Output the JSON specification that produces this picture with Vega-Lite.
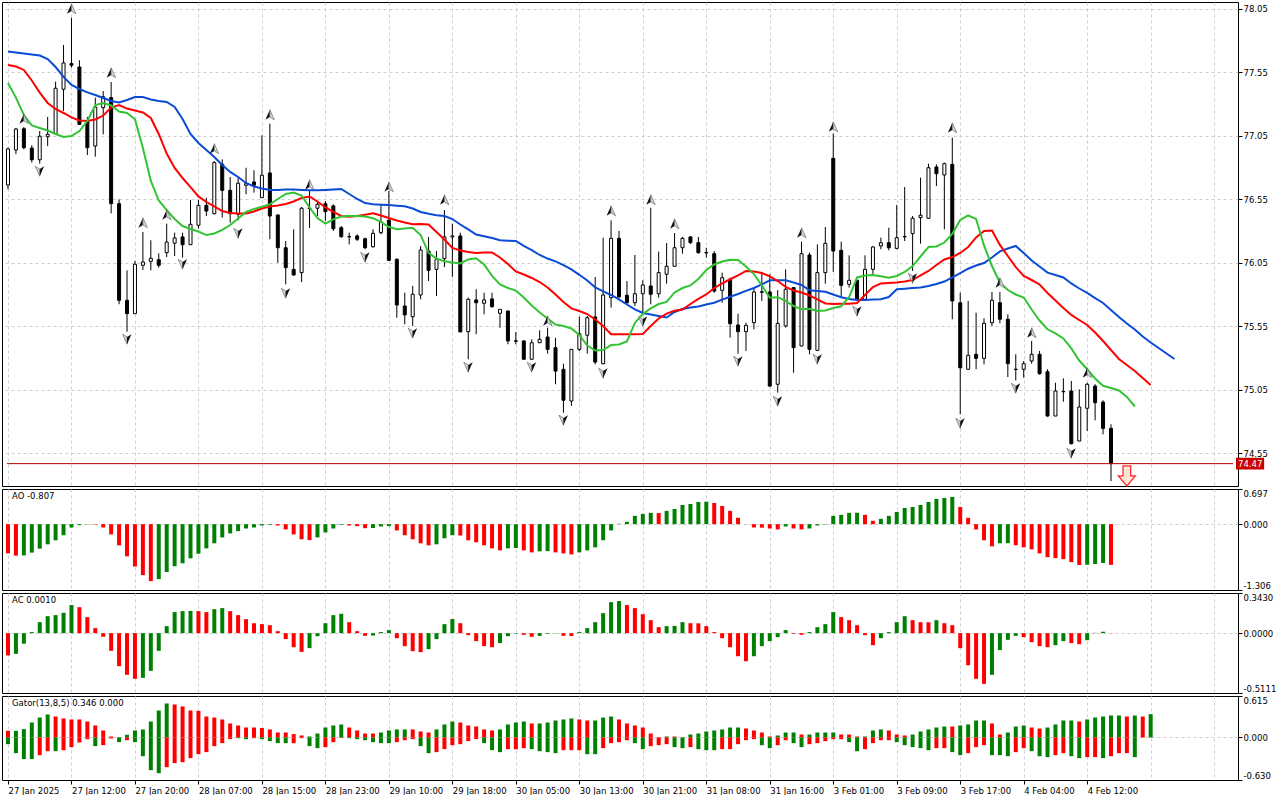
{
  "$schema": "https://vega.github.io/schema/vega-lite/v6.json",
  "description": "MT4 style hourly chart with Alligator, fractals, AO, AC and Gator panels.",
  "padding": {"left": 1, "top": 1, "right": 0, "bottom": 0},
  "background": "#ffffff",
  "bounds": "flush",
  "spacing": 3,
  "config": {
    "view": {"stroke": "#000000", "strokeWidth": 1},
    "font": "DejaVu Sans",
    "axis": {
      "labelFont": "DejaVu Sans",
      "labelFontSize": 8.5,
      "labelColor": "#000000",
      "tickColor": "#000000",
      "gridColor": "#cfcfcf",
      "gridDash": [3, 3],
      "domain": false,
      "labelOverlap": false,
      "labelBound": false
    }
  },
  "datasets": {
    "cd": [
      {"i":0,"o":76.664,"h":76.96,"l":76.63,"c":76.948},
      {"i":1,"o":76.94,"h":77.113,"l":76.906,"c":77.105},
      {"i":2,"o":77.107,"h":77.121,"l":76.945,"c":76.958},
      {"i":3,"o":76.955,"h":76.977,"l":76.84,"c":76.863},
      {"i":4,"o":76.863,"h":77.089,"l":76.832,"c":77.048},
      {"i":5,"o":77.044,"h":77.2,"l":76.971,"c":77.063},
      {"i":6,"o":77.068,"h":77.478,"l":77.063,"c":77.426},
      {"i":7,"o":77.418,"h":77.767,"l":77.247,"c":77.625},
      {"i":8,"o":77.62,"h":77.981,"l":77.588,"c":77.607},
      {"i":9,"o":77.593,"h":77.646,"l":77.137,"c":77.142},
      {"i":10,"o":77.163,"h":77.2,"l":76.9,"c":76.958},
      {"i":11,"o":76.971,"h":77.352,"l":76.887,"c":77.278},
      {"i":12,"o":77.273,"h":77.404,"l":77.063,"c":77.359},
      {"i":13,"o":77.352,"h":77.475,"l":76.441,"c":76.517},
      {"i":14,"o":76.517,"h":76.551,"l":75.725,"c":75.756},
      {"i":15,"o":75.756,"h":75.992,"l":75.509,"c":75.651},
      {"i":16,"o":75.651,"h":76.066,"l":75.651,"c":76.04},
      {"i":17,"o":76.032,"h":76.294,"l":75.995,"c":76.058},
      {"i":18,"o":76.063,"h":76.229,"l":75.992,"c":76.087},
      {"i":19,"o":76.076,"h":76.126,"l":76.013,"c":76.032},
      {"i":20,"o":76.131,"h":76.359,"l":76.097,"c":76.215},
      {"i":21,"o":76.206,"h":76.289,"l":76.105,"c":76.247},
      {"i":22,"o":76.255,"h":76.289,"l":76.092,"c":76.194},
      {"i":23,"o":76.194,"h":76.546,"l":76.194,"c":76.355},
      {"i":24,"o":76.347,"h":76.546,"l":76.32,"c":76.504},
      {"i":25,"o":76.504,"h":76.564,"l":76.419,"c":76.459},
      {"i":26,"o":76.438,"h":76.853,"l":76.433,"c":76.84},
      {"i":27,"o":76.827,"h":76.866,"l":76.407,"c":76.622},
      {"i":28,"o":76.622,"h":76.727,"l":76.367,"c":76.438},
      {"i":29,"o":76.433,"h":76.722,"l":76.386,"c":76.678},
      {"i":30,"o":76.662,"h":76.8,"l":76.591,"c":76.675},
      {"i":31,"o":76.688,"h":76.78,"l":76.604,"c":76.662},
      {"i":32,"o":76.564,"h":77.055,"l":76.564,"c":76.741},
      {"i":33,"o":76.759,"h":77.147,"l":76.237,"c":76.42},
      {"i":34,"o":76.428,"h":76.433,"l":76.052,"c":76.17},
      {"i":35,"o":76.17,"h":76.223,"l":75.882,"c":76.013},
      {"i":36,"o":76.0,"h":76.315,"l":75.948,"c":75.956},
      {"i":37,"o":75.974,"h":76.491,"l":75.9,"c":76.481},
      {"i":38,"o":76.483,"h":76.617,"l":76.326,"c":76.479},
      {"i":39,"o":76.481,"h":76.538,"l":76.42,"c":76.512},
      {"i":40,"o":76.517,"h":76.538,"l":76.381,"c":76.454},
      {"i":41,"o":76.499,"h":76.512,"l":76.302,"c":76.32},
      {"i":42,"o":76.328,"h":76.341,"l":76.249,"c":76.257},
      {"i":43,"o":76.258,"h":76.289,"l":76.197,"c":76.256},
      {"i":44,"o":76.263,"h":76.276,"l":76.223,"c":76.237},
      {"i":45,"o":76.241,"h":76.249,"l":76.158,"c":76.17},
      {"i":46,"o":76.178,"h":76.315,"l":76.17,"c":76.284},
      {"i":47,"o":76.289,"h":76.512,"l":76.276,"c":76.373},
      {"i":48,"o":76.386,"h":76.617,"l":76.066,"c":76.071},
      {"i":49,"o":76.079,"h":76.087,"l":75.619,"c":75.719},
      {"i":50,"o":75.711,"h":75.816,"l":75.567,"c":75.641},
      {"i":51,"o":75.627,"h":75.869,"l":75.554,"c":75.804},
      {"i":52,"o":75.798,"h":76.184,"l":75.764,"c":76.152},
      {"i":53,"o":76.144,"h":76.255,"l":75.908,"c":75.992},
      {"i":54,"o":76.0,"h":76.144,"l":75.79,"c":76.079},
      {"i":55,"o":76.084,"h":76.467,"l":76.018,"c":76.255},
      {"i":56,"o":76.255,"h":76.359,"l":75.94,"c":76.263},
      {"i":57,"o":76.263,"h":76.289,"l":75.507,"c":75.507},
      {"i":58,"o":75.509,"h":75.777,"l":75.292,"c":75.764},
      {"i":59,"o":75.759,"h":75.843,"l":75.489,"c":75.737},
      {"i":60,"o":75.733,"h":75.816,"l":75.646,"c":75.759},
      {"i":61,"o":75.767,"h":75.816,"l":75.698,"c":75.706},
      {"i":62,"o":75.654,"h":75.685,"l":75.54,"c":75.685},
      {"i":63,"o":75.672,"h":75.672,"l":75.41,"c":75.436},
      {"i":64,"o":75.437,"h":75.507,"l":75.41,"c":75.434},
      {"i":65,"o":75.436,"h":75.442,"l":75.292,"c":75.292},
      {"i":66,"o":75.292,"h":75.449,"l":75.29,"c":75.422},
      {"i":67,"o":75.422,"h":75.52,"l":75.422,"c":75.449},
      {"i":68,"o":75.467,"h":75.54,"l":75.336,"c":75.37},
      {"i":69,"o":75.383,"h":75.461,"l":75.095,"c":75.199},
      {"i":70,"o":75.213,"h":75.257,"l":74.871,"c":74.969},
      {"i":71,"o":74.963,"h":75.37,"l":74.924,"c":75.37},
      {"i":72,"o":75.37,"h":75.627,"l":75.357,"c":75.493},
      {"i":73,"o":75.481,"h":75.633,"l":75.336,"c":75.619},
      {"i":74,"o":75.625,"h":75.94,"l":75.252,"c":75.27},
      {"i":75,"o":75.257,"h":76.249,"l":75.252,"c":75.798},
      {"i":76,"o":75.777,"h":76.386,"l":75.698,"c":76.244},
      {"i":77,"o":76.244,"h":76.302,"l":75.777,"c":75.782},
      {"i":78,"o":75.796,"h":75.908,"l":75.73,"c":75.737},
      {"i":79,"o":75.737,"h":76.113,"l":75.711,"c":75.808},
      {"i":80,"o":75.808,"h":75.914,"l":75.659,"c":75.877},
      {"i":81,"o":75.869,"h":76.485,"l":75.725,"c":75.804},
      {"i":82,"o":75.808,"h":76.139,"l":75.777,"c":75.974},
      {"i":83,"o":75.961,"h":76.207,"l":75.887,"c":76.024},
      {"i":84,"o":76.024,"h":76.286,"l":76.024,"c":76.17},
      {"i":85,"o":76.17,"h":76.255,"l":76.123,"c":76.244},
      {"i":86,"o":76.255,"h":76.263,"l":76.2,"c":76.21},
      {"i":87,"o":76.21,"h":76.255,"l":76.123,"c":76.131},
      {"i":88,"o":76.133,"h":76.17,"l":76.092,"c":76.129},
      {"i":89,"o":76.123,"h":76.144,"l":75.816,"c":75.829},
      {"i":90,"o":75.835,"h":75.974,"l":75.737,"c":75.934},
      {"i":91,"o":75.922,"h":75.934,"l":75.462,"c":75.572},
      {"i":92,"o":75.562,"h":75.651,"l":75.336,"c":75.509},
      {"i":93,"o":75.509,"h":75.58,"l":75.357,"c":75.559},
      {"i":94,"o":75.58,"h":75.856,"l":75.528,"c":75.822},
      {"i":95,"o":75.823,"h":75.974,"l":75.751,"c":75.82},
      {"i":96,"o":75.822,"h":75.961,"l":75.074,"c":75.081},
      {"i":97,"o":75.095,"h":75.837,"l":75.029,"c":75.575},
      {"i":98,"o":75.554,"h":76.0,"l":75.541,"c":75.843},
      {"i":99,"o":75.856,"h":75.856,"l":75.186,"c":75.383},
      {"i":100,"o":75.396,"h":76.218,"l":75.396,"c":76.123},
      {"i":101,"o":76.113,"h":76.131,"l":75.331,"c":75.37},
      {"i":102,"o":75.362,"h":76.197,"l":75.357,"c":75.974},
      {"i":103,"o":75.974,"h":76.333,"l":75.887,"c":76.205},
      {"i":104,"o":76.874,"h":77.07,"l":75.98,"c":76.144},
      {"i":105,"o":76.15,"h":76.218,"l":75.777,"c":75.874},
      {"i":106,"o":75.882,"h":76.11,"l":75.856,"c":75.914},
      {"i":107,"o":75.914,"h":75.914,"l":75.757,"c":75.764},
      {"i":108,"o":75.764,"h":76.11,"l":75.764,"c":76.0},
      {"i":109,"o":76.0,"h":76.184,"l":75.961,"c":76.176},
      {"i":110,"o":76.184,"h":76.249,"l":76.158,"c":76.21},
      {"i":111,"o":76.21,"h":76.328,"l":76.15,"c":76.17},
      {"i":112,"o":76.165,"h":76.507,"l":76.158,"c":76.249},
      {"i":113,"o":76.258,"h":76.648,"l":76.223,"c":76.256},
      {"i":114,"o":76.281,"h":76.42,"l":75.987,"c":76.402},
      {"i":115,"o":76.407,"h":76.722,"l":76.202,"c":76.426},
      {"i":116,"o":76.402,"h":76.832,"l":76.402,"c":76.8},
      {"i":117,"o":76.806,"h":76.827,"l":76.656,"c":76.753},
      {"i":118,"o":76.743,"h":76.84,"l":76.315,"c":76.832},
      {"i":119,"o":76.827,"h":77.037,"l":75.607,"c":75.751},
      {"i":120,"o":75.737,"h":75.816,"l":74.858,"c":75.225},
      {"i":121,"o":75.213,"h":75.751,"l":75.213,"c":75.323},
      {"i":122,"o":75.331,"h":75.659,"l":75.213,"c":75.299},
      {"i":123,"o":75.299,"h":75.615,"l":75.252,"c":75.575},
      {"i":124,"o":75.58,"h":75.822,"l":75.554,"c":75.756},
      {"i":125,"o":75.737,"h":75.822,"l":75.575,"c":75.607},
      {"i":126,"o":75.607,"h":75.646,"l":75.152,"c":75.257},
      {"i":127,"o":75.214,"h":75.331,"l":75.126,"c":75.211},
      {"i":128,"o":75.213,"h":75.278,"l":75.147,"c":75.257},
      {"i":129,"o":75.278,"h":75.436,"l":75.257,"c":75.331},
      {"i":130,"o":75.331,"h":75.357,"l":75.171,"c":75.178},
      {"i":131,"o":75.194,"h":75.213,"l":74.84,"c":74.845},
      {"i":132,"o":74.845,"h":75.107,"l":74.845,"c":75.042},
      {"i":133,"o":75.038,"h":75.142,"l":74.958,"c":75.036},
      {"i":134,"o":75.042,"h":75.121,"l":74.622,"c":74.627},
      {"i":135,"o":74.648,"h":75.055,"l":74.648,"c":74.916},
      {"i":136,"o":74.906,"h":75.107,"l":74.727,"c":75.095},
      {"i":137,"o":75.081,"h":75.095,"l":74.811,"c":74.95},
      {"i":138,"o":74.955,"h":74.969,"l":74.701,"c":74.748},
      {"i":139,"o":74.748,"h":74.78,"l":74.333,"c":74.47}
    ],
    "al": [
      {"i":0,"j":77.715,"t":77.609,"lp":77.467},
      {"i":1,"j":77.708,"t":77.597,"lp":77.352},
      {"i":2,"j":77.7,"t":77.57,"lp":77.215},
      {"i":3,"j":77.692,"t":77.487,"lp":77.133},
      {"i":4,"j":77.684,"t":77.392,"lp":77.113},
      {"i":5,"j":77.656,"t":77.31,"lp":77.093},
      {"i":6,"j":77.593,"t":77.263,"lp":77.066},
      {"i":7,"j":77.515,"t":77.231,"lp":77.042},
      {"i":8,"j":77.452,"t":77.196,"lp":77.05},
      {"i":9,"j":77.42,"t":77.172,"lp":77.089},
      {"i":10,"j":77.393,"t":77.168,"lp":77.168},
      {"i":11,"j":77.373,"t":77.18,"lp":77.294},
      {"i":12,"j":77.349,"t":77.211,"lp":77.31},
      {"i":13,"j":77.326,"t":77.274,"lp":77.29},
      {"i":14,"j":77.314,"t":77.294,"lp":77.243},
      {"i":15,"j":77.333,"t":77.266,"lp":77.231},
      {"i":16,"j":77.357,"t":77.251,"lp":77.182},
      {"i":17,"j":77.357,"t":77.235,"lp":76.956},
      {"i":18,"j":77.337,"t":77.192,"lp":76.696},
      {"i":19,"j":77.326,"t":77.066,"lp":76.542},
      {"i":20,"j":77.318,"t":76.912,"lp":76.467},
      {"i":21,"j":77.278,"t":76.798,"lp":76.396},
      {"i":22,"j":77.184,"t":76.719,"lp":76.341},
      {"i":23,"j":77.066,"t":76.648,"lp":76.318},
      {"i":24,"j":76.995,"t":76.574,"lp":76.298},
      {"i":25,"j":76.94,"t":76.53,"lp":76.27},
      {"i":26,"j":76.885,"t":76.495,"lp":76.282},
      {"i":27,"j":76.822,"t":76.459,"lp":76.31},
      {"i":28,"j":76.767,"t":76.444,"lp":76.349},
      {"i":29,"j":76.727,"t":76.44,"lp":76.4},
      {"i":30,"j":76.68,"t":76.44,"lp":76.452},
      {"i":31,"j":76.652,"t":76.456,"lp":76.475},
      {"i":32,"j":76.637,"t":76.479,"lp":76.493},
      {"i":33,"j":76.625,"t":76.495,"lp":76.511},
      {"i":34,"j":76.625,"t":76.503,"lp":76.554},
      {"i":35,"j":76.629,"t":76.515,"lp":76.593},
      {"i":36,"j":76.629,"t":76.534,"lp":76.605},
      {"i":37,"j":76.625,"t":76.562,"lp":76.581},
      {"i":38,"j":76.622,"t":76.574,"lp":76.487},
      {"i":39,"j":76.622,"t":76.534,"lp":76.404},
      {"i":40,"j":76.625,"t":76.487,"lp":76.36},
      {"i":41,"j":76.629,"t":76.452,"lp":76.394},
      {"i":42,"j":76.633,"t":76.42,"lp":76.416},
      {"i":43,"j":76.593,"t":76.415,"lp":76.42},
      {"i":44,"j":76.554,"t":76.42,"lp":76.42},
      {"i":45,"j":76.522,"t":76.43,"lp":76.416},
      {"i":46,"j":76.512,"t":76.441,"lp":76.403},
      {"i":47,"j":76.509,"t":76.424,"lp":76.373},
      {"i":48,"j":76.507,"t":76.404,"lp":76.333},
      {"i":49,"j":76.501,"t":76.385,"lp":76.315},
      {"i":50,"j":76.496,"t":76.369,"lp":76.322},
      {"i":51,"j":76.479,"t":76.355,"lp":76.328},
      {"i":52,"j":76.452,"t":76.357,"lp":76.27},
      {"i":53,"j":76.437,"t":76.353,"lp":76.129},
      {"i":54,"j":76.426,"t":76.294,"lp":76.085},
      {"i":55,"j":76.42,"t":76.235,"lp":76.063},
      {"i":56,"j":76.396,"t":76.168,"lp":76.054},
      {"i":57,"j":76.353,"t":76.148,"lp":76.046},
      {"i":58,"j":76.314,"t":76.137,"lp":76.078},
      {"i":59,"j":76.274,"t":76.129,"lp":76.087},
      {"i":60,"j":76.26,"t":76.133,"lp":76.038},
      {"i":61,"j":76.247,"t":76.133,"lp":75.948},
      {"i":62,"j":76.229,"t":76.093,"lp":75.881},
      {"i":63,"j":76.226,"t":76.042,"lp":75.853},
      {"i":64,"j":76.223,"t":75.983,"lp":75.833},
      {"i":65,"j":76.184,"t":75.959,"lp":75.778},
      {"i":66,"j":76.152,"t":75.932,"lp":75.715},
      {"i":67,"j":76.113,"t":75.9,"lp":75.66},
      {"i":68,"j":76.085,"t":75.857,"lp":75.613},
      {"i":69,"j":76.063,"t":75.802,"lp":75.566},
      {"i":70,"j":76.034,"t":75.743,"lp":75.554},
      {"i":71,"j":75.999,"t":75.693,"lp":75.534},
      {"i":72,"j":75.957,"t":75.672,"lp":75.483},
      {"i":73,"j":75.912,"t":75.648,"lp":75.4},
      {"i":74,"j":75.857,"t":75.605,"lp":75.361},
      {"i":75,"j":75.826,"t":75.554,"lp":75.365},
      {"i":76,"j":75.798,"t":75.489,"lp":75.404},
      {"i":77,"j":75.763,"t":75.489,"lp":75.408},
      {"i":78,"j":75.723,"t":75.489,"lp":75.432},
      {"i":79,"j":75.684,"t":75.489,"lp":75.578},
      {"i":80,"j":75.656,"t":75.491,"lp":75.648},
      {"i":81,"j":75.645,"t":75.554,"lp":75.692},
      {"i":82,"j":75.633,"t":75.613,"lp":75.727},
      {"i":83,"j":75.621,"t":75.652,"lp":75.743},
      {"i":84,"j":75.664,"t":75.674,"lp":75.818},
      {"i":85,"j":75.688,"t":75.684,"lp":75.853},
      {"i":86,"j":75.7,"t":75.727,"lp":75.873},
      {"i":87,"j":75.707,"t":75.767,"lp":75.924},
      {"i":88,"j":75.723,"t":75.802,"lp":75.995},
      {"i":89,"j":75.737,"t":75.853,"lp":76.038},
      {"i":90,"j":75.761,"t":75.889,"lp":76.062},
      {"i":91,"j":75.784,"t":75.922,"lp":76.076},
      {"i":92,"j":75.806,"t":75.953,"lp":76.074},
      {"i":93,"j":75.83,"t":75.987,"lp":76.022},
      {"i":94,"j":75.853,"t":75.983,"lp":75.963},
      {"i":95,"j":75.881,"t":75.971,"lp":75.873},
      {"i":96,"j":75.914,"t":75.944,"lp":75.777},
      {"i":97,"j":75.914,"t":75.908,"lp":75.781},
      {"i":98,"j":75.914,"t":75.861,"lp":75.752},
      {"i":99,"j":75.896,"t":75.833,"lp":75.711},
      {"i":100,"j":75.877,"t":75.818,"lp":75.685},
      {"i":101,"j":75.835,"t":75.794,"lp":75.689},
      {"i":102,"j":75.83,"t":75.764,"lp":75.672},
      {"i":103,"j":75.824,"t":75.731,"lp":75.676},
      {"i":104,"j":75.802,"t":75.727,"lp":75.696},
      {"i":105,"j":75.78,"t":75.729,"lp":75.709},
      {"i":106,"j":75.767,"t":75.729,"lp":75.782},
      {"i":107,"j":75.759,"t":75.735,"lp":75.936},
      {"i":108,"j":75.759,"t":75.798,"lp":75.952},
      {"i":109,"j":75.763,"t":75.861,"lp":75.955},
      {"i":110,"j":75.764,"t":75.889,"lp":75.945},
      {"i":111,"j":75.782,"t":75.893,"lp":75.934},
      {"i":112,"j":75.843,"t":75.896,"lp":75.948},
      {"i":113,"j":75.848,"t":75.904,"lp":75.979},
      {"i":114,"j":75.853,"t":75.916,"lp":76.026},
      {"i":115,"j":75.857,"t":75.952,"lp":76.101},
      {"i":116,"j":75.869,"t":75.987,"lp":76.176},
      {"i":117,"j":75.885,"t":76.034,"lp":76.18},
      {"i":118,"j":75.904,"t":76.078,"lp":76.211},
      {"i":119,"j":75.936,"t":76.097,"lp":76.278},
      {"i":120,"j":75.971,"t":76.129,"lp":76.389},
      {"i":121,"j":76.005,"t":76.176,"lp":76.424},
      {"i":122,"j":76.03,"t":76.251,"lp":76.397},
      {"i":123,"j":76.05,"t":76.302,"lp":76.188},
      {"i":124,"j":76.093,"t":76.306,"lp":76.026},
      {"i":125,"j":76.141,"t":76.192,"lp":75.896},
      {"i":126,"j":76.164,"t":76.105,"lp":75.837},
      {"i":127,"j":76.184,"t":76.018,"lp":75.802},
      {"i":128,"j":76.129,"t":75.948,"lp":75.778},
      {"i":129,"j":76.07,"t":75.916,"lp":75.684},
      {"i":130,"j":76.022,"t":75.881,"lp":75.597},
      {"i":131,"j":75.974,"t":75.814,"lp":75.528},
      {"i":132,"j":75.956,"t":75.755,"lp":75.495},
      {"i":133,"j":75.936,"t":75.696,"lp":75.456},
      {"i":134,"j":75.889,"t":75.641,"lp":75.377},
      {"i":135,"j":75.849,"t":75.601,"lp":75.282},
      {"i":136,"j":75.814,"t":75.562,"lp":75.213},
      {"i":137,"j":75.774,"t":75.503,"lp":75.141},
      {"i":138,"j":75.735,"t":75.436,"lp":75.083},
      {"i":139,"j":75.68,"t":75.365,"lp":75.066},
      {"i":140,"j":75.625,"t":75.294,"lp":75.046},
      {"i":141,"j":75.574,"t":75.247,"lp":74.995},
      {"i":142,"j":75.526,"t":75.2,"lp":74.92},
      {"i":143,"j":75.471,"t":75.145},
      {"i":144,"j":75.424,"t":75.089},
      {"i":145,"j":75.381},
      {"i":146,"j":75.337},
      {"i":147,"j":75.294}
    ],
    "fr": [
      {"i":2,"p":77.184,"d":"u"},{"i":8,"p":78.05,"d":"u"},{"i":13,"p":77.546,"d":"u"},{"i":17,"p":76.365,"d":"u"},
      {"i":20,"p":76.428,"d":"u"},{"i":26,"p":76.948,"d":"u"},{"i":33,"p":77.215,"d":"u"},{"i":38,"p":76.664,"d":"u"},
      {"i":48,"p":76.648,"d":"u"},{"i":55,"p":76.546,"d":"u"},{"i":68,"p":75.593,"d":"u"},{"i":76,"p":76.459,"d":"u"},
      {"i":81,"p":76.546,"d":"u"},{"i":84,"p":76.357,"d":"u"},{"i":100,"p":76.286,"d":"u"},{"i":104,"p":77.121,"d":"u"},
      {"i":119,"p":77.113,"d":"u"},{"i":125,"p":75.893,"d":"u"},{"i":129,"p":75.499,"d":"u"},{"i":136,"p":75.184,"d":"u"},
      {"i":4,"p":76.774,"d":"d"},{"i":15,"p":75.452,"d":"d"},{"i":22,"p":76.042,"d":"d"},{"i":29,"p":76.286,"d":"d"},
      {"i":35,"p":75.814,"d":"d"},{"i":45,"p":76.097,"d":"d"},{"i":51,"p":75.499,"d":"d"},{"i":58,"p":75.231,"d":"d"},
      {"i":66,"p":75.231,"d":"d"},{"i":70,"p":74.814,"d":"d"},{"i":75,"p":75.184,"d":"d"},{"i":80,"p":75.593,"d":"d"},
      {"i":92,"p":75.278,"d":"d"},{"i":97,"p":74.963,"d":"d"},{"i":102,"p":75.294,"d":"d"},{"i":107,"p":75.672,"d":"d"},
      {"i":114,"p":75.932,"d":"d"},{"i":120,"p":74.79,"d":"d"},{"i":127,"p":75.066,"d":"d"},{"i":134,"p":74.554,"d":"d"}
    ],
    "os": [
      {"i":0,"ao":-0.58,"aoc":"r","ac":-0.19,"acc":"r"},
      {"i":1,"ao":-0.625,"aoc":"r","ac":-0.177,"acc":"g"},
      {"i":2,"ao":-0.62,"aoc":"g","ac":-0.09,"acc":"g"},
      {"i":3,"ao":-0.565,"aoc":"g","ac":0.009,"acc":"g"},
      {"i":4,"ao":-0.487,"aoc":"g","ac":0.094,"acc":"g"},
      {"i":5,"ao":-0.4,"aoc":"g","ac":0.145,"acc":"g"},
      {"i":6,"ao":-0.32,"aoc":"g","ac":0.154,"acc":"g"},
      {"i":7,"ao":-0.22,"aoc":"g","ac":0.174,"acc":"g"},
      {"i":8,"ao":-0.066,"aoc":"g","ac":0.24,"acc":"g"},
      {"i":9,"ao":-0.02,"aoc":"g","ac":0.222,"acc":"r"},
      {"i":10,"ao":-0.005,"aoc":"g","ac":0.137,"acc":"r"},
      {"i":11,"ao":-0.008,"aoc":"r","ac":0.043,"acc":"r"},
      {"i":12,"ao":-0.066,"aoc":"r","ac":-0.031,"acc":"r"},
      {"i":13,"ao":-0.204,"aoc":"r","ac":-0.151,"acc":"r"},
      {"i":14,"ao":-0.42,"aoc":"r","ac":-0.282,"acc":"r"},
      {"i":15,"ao":-0.638,"aoc":"r","ac":-0.356,"acc":"r"},
      {"i":16,"ao":-0.84,"aoc":"r","ac":-0.39,"acc":"r"},
      {"i":17,"ao":-1.01,"aoc":"r","ac":-0.382,"acc":"g"},
      {"i":18,"ao":-1.13,"aoc":"r","ac":-0.322,"acc":"g"},
      {"i":19,"ao":-1.09,"aoc":"g","ac":-0.151,"acc":"g"},
      {"i":20,"ao":-0.95,"aoc":"g","ac":0.06,"acc":"g"},
      {"i":21,"ao":-0.835,"aoc":"g","ac":0.18,"acc":"g"},
      {"i":22,"ao":-0.776,"aoc":"g","ac":0.188,"acc":"g"},
      {"i":23,"ao":-0.678,"aoc":"g","ac":0.19,"acc":"g"},
      {"i":24,"ao":-0.586,"aoc":"g","ac":0.188,"acc":"r"},
      {"i":25,"ao":-0.48,"aoc":"g","ac":0.18,"acc":"r"},
      {"i":26,"ao":-0.38,"aoc":"g","ac":0.205,"acc":"g"},
      {"i":27,"ao":-0.263,"aoc":"g","ac":0.214,"acc":"g"},
      {"i":28,"ao":-0.184,"aoc":"g","ac":0.188,"acc":"r"},
      {"i":29,"ao":-0.138,"aoc":"g","ac":0.154,"acc":"r"},
      {"i":30,"ao":-0.086,"aoc":"g","ac":0.12,"acc":"r"},
      {"i":31,"ao":-0.066,"aoc":"g","ac":0.085,"acc":"r"},
      {"i":32,"ao":-0.026,"aoc":"g","ac":0.077,"acc":"r"},
      {"i":33,"ao":-0.013,"aoc":"g","ac":0.068,"acc":"r"},
      {"i":34,"ao":-0.026,"aoc":"r","ac":0.017,"acc":"r"},
      {"i":35,"ao":-0.105,"aoc":"r","ac":-0.051,"acc":"r"},
      {"i":36,"ao":-0.204,"aoc":"r","ac":-0.12,"acc":"r"},
      {"i":37,"ao":-0.3,"aoc":"r","ac":-0.16,"acc":"r"},
      {"i":38,"ao":-0.316,"aoc":"r","ac":-0.128,"acc":"g"},
      {"i":39,"ao":-0.263,"aoc":"g","ac":-0.026,"acc":"g"},
      {"i":40,"ao":-0.164,"aoc":"g","ac":0.085,"acc":"g"},
      {"i":41,"ao":-0.086,"aoc":"g","ac":0.154,"acc":"g"},
      {"i":42,"ao":-0.013,"aoc":"g","ac":0.165,"acc":"g"},
      {"i":43,"ao":-0.026,"aoc":"r","ac":0.094,"acc":"r"},
      {"i":44,"ao":-0.04,"aoc":"r","ac":0.017,"acc":"r"},
      {"i":45,"ao":-0.08,"aoc":"r","ac":-0.023,"acc":"r"},
      {"i":46,"ao":-0.076,"aoc":"g","ac":-0.02,"acc":"g"},
      {"i":47,"ao":-0.046,"aoc":"g","ac":0.009,"acc":"g"},
      {"i":48,"ao":-0.04,"aoc":"g","ac":0.026,"acc":"g"},
      {"i":49,"ao":-0.125,"aoc":"r","ac":-0.043,"acc":"r"},
      {"i":50,"ao":-0.22,"aoc":"r","ac":-0.111,"acc":"r"},
      {"i":51,"ao":-0.3,"aoc":"r","ac":-0.154,"acc":"r"},
      {"i":52,"ao":-0.38,"aoc":"r","ac":-0.162,"acc":"r"},
      {"i":53,"ao":-0.42,"aoc":"r","ac":-0.137,"acc":"g"},
      {"i":54,"ao":-0.4,"aoc":"g","ac":-0.051,"acc":"g"},
      {"i":55,"ao":-0.28,"aoc":"g","ac":0.077,"acc":"g"},
      {"i":56,"ao":-0.22,"aoc":"g","ac":0.12,"acc":"g"},
      {"i":57,"ao":-0.225,"aoc":"r","ac":0.085,"acc":"r"},
      {"i":58,"ao":-0.32,"aoc":"r","ac":-0.017,"acc":"r"},
      {"i":59,"ao":-0.36,"aoc":"r","ac":-0.068,"acc":"r"},
      {"i":60,"ao":-0.42,"aoc":"r","ac":-0.111,"acc":"r"},
      {"i":61,"ao":-0.48,"aoc":"r","ac":-0.12,"acc":"r"},
      {"i":62,"ao":-0.52,"aoc":"r","ac":-0.085,"acc":"g"},
      {"i":63,"ao":-0.48,"aoc":"g","ac":-0.026,"acc":"g"},
      {"i":64,"ao":-0.475,"aoc":"g","ac":-0.006,"acc":"g"},
      {"i":65,"ao":-0.52,"aoc":"r","ac":-0.014,"acc":"r"},
      {"i":66,"ao":-0.56,"aoc":"r","ac":-0.031,"acc":"r"},
      {"i":67,"ao":-0.54,"aoc":"g","ac":-0.023,"acc":"g"},
      {"i":68,"ao":-0.535,"aoc":"g","ac":-0.006,"acc":"g"},
      {"i":69,"ao":-0.56,"aoc":"r","ac":-0.002,"acc":"g"},
      {"i":70,"ao":-0.58,"aoc":"r","ac":-0.023,"acc":"r"},
      {"i":71,"ao":-0.6,"aoc":"r","ac":-0.025,"acc":"r"},
      {"i":72,"ao":-0.56,"aoc":"g","ac":0.009,"acc":"g"},
      {"i":73,"ao":-0.52,"aoc":"g","ac":0.043,"acc":"g"},
      {"i":74,"ao":-0.46,"aoc":"g","ac":0.094,"acc":"g"},
      {"i":75,"ao":-0.32,"aoc":"g","ac":0.171,"acc":"g"},
      {"i":76,"ao":-0.125,"aoc":"g","ac":0.265,"acc":"g"},
      {"i":77,"ao":0.007,"aoc":"g","ac":0.274,"acc":"g"},
      {"i":78,"ao":0.046,"aoc":"g","ac":0.24,"acc":"r"},
      {"i":79,"ao":0.164,"aoc":"g","ac":0.214,"acc":"r"},
      {"i":80,"ao":0.204,"aoc":"g","ac":0.162,"acc":"r"},
      {"i":81,"ao":0.224,"aoc":"g","ac":0.111,"acc":"r"},
      {"i":82,"ao":0.22,"aoc":"r","ac":0.051,"acc":"r"},
      {"i":83,"ao":0.263,"aoc":"g","ac":0.06,"acc":"g"},
      {"i":84,"ao":0.3,"aoc":"g","ac":0.062,"acc":"g"},
      {"i":85,"ao":0.38,"aoc":"g","ac":0.094,"acc":"g"},
      {"i":86,"ao":0.4,"aoc":"g","ac":0.085,"acc":"r"},
      {"i":87,"ao":0.44,"aoc":"g","ac":0.084,"acc":"r"},
      {"i":88,"ao":0.445,"aoc":"g","ac":0.06,"acc":"r"},
      {"i":89,"ao":0.42,"aoc":"r","ac":0.009,"acc":"r"},
      {"i":90,"ao":0.36,"aoc":"r","ac":-0.043,"acc":"r"},
      {"i":91,"ao":0.263,"aoc":"r","ac":-0.12,"acc":"r"},
      {"i":92,"ao":0.125,"aoc":"r","ac":-0.197,"acc":"r"},
      {"i":93,"ao":0.003,"aoc":"r","ac":-0.24,"acc":"r"},
      {"i":94,"ao":-0.066,"aoc":"r","ac":-0.197,"acc":"g"},
      {"i":95,"ao":-0.07,"aoc":"r","ac":-0.111,"acc":"g"},
      {"i":96,"ao":-0.086,"aoc":"r","ac":-0.068,"acc":"g"},
      {"i":97,"ao":-0.105,"aoc":"r","ac":-0.034,"acc":"g"},
      {"i":98,"ao":-0.046,"aoc":"g","ac":0.026,"acc":"g"},
      {"i":99,"ao":-0.086,"aoc":"r","ac":-0.006,"acc":"r"},
      {"i":100,"ao":-0.105,"aoc":"r","ac":-0.014,"acc":"r"},
      {"i":101,"ao":-0.086,"aoc":"g","ac":0.009,"acc":"g"},
      {"i":102,"ao":-0.026,"aoc":"g","ac":0.051,"acc":"g"},
      {"i":103,"ao":-0.007,"aoc":"g","ac":0.077,"acc":"g"},
      {"i":104,"ao":0.164,"aoc":"g","ac":0.18,"acc":"g"},
      {"i":105,"ao":0.184,"aoc":"g","ac":0.137,"acc":"r"},
      {"i":106,"ao":0.224,"aoc":"g","ac":0.111,"acc":"r"},
      {"i":107,"ao":0.226,"aoc":"g","ac":0.068,"acc":"r"},
      {"i":108,"ao":0.184,"aoc":"r","ac":-0.017,"acc":"r"},
      {"i":109,"ao":0.066,"aoc":"r","ac":-0.103,"acc":"r"},
      {"i":110,"ao":0.105,"aoc":"g","ac":-0.043,"acc":"g"},
      {"i":111,"ao":0.164,"aoc":"g","ac":0.009,"acc":"g"},
      {"i":112,"ao":0.243,"aoc":"g","ac":0.094,"acc":"g"},
      {"i":113,"ao":0.32,"aoc":"g","ac":0.145,"acc":"g"},
      {"i":114,"ao":0.34,"aoc":"g","ac":0.111,"acc":"r"},
      {"i":115,"ao":0.38,"aoc":"g","ac":0.094,"acc":"r"},
      {"i":116,"ao":0.44,"aoc":"g","ac":0.093,"acc":"r"},
      {"i":117,"ao":0.5,"aoc":"g","ac":0.111,"acc":"g"},
      {"i":118,"ao":0.52,"aoc":"g","ac":0.085,"acc":"r"},
      {"i":119,"ao":0.54,"aoc":"g","ac":0.068,"acc":"r"},
      {"i":120,"ao":0.34,"aoc":"r","ac":-0.128,"acc":"r"},
      {"i":121,"ao":0.125,"aoc":"r","ac":-0.274,"acc":"r"},
      {"i":122,"ao":-0.105,"aoc":"r","ac":-0.39,"acc":"r"},
      {"i":123,"ao":-0.32,"aoc":"r","ac":-0.433,"acc":"r"},
      {"i":124,"ao":-0.44,"aoc":"r","ac":-0.356,"acc":"g"},
      {"i":125,"ao":-0.38,"aoc":"g","ac":-0.145,"acc":"g"},
      {"i":126,"ao":-0.378,"aoc":"g","ac":-0.057,"acc":"g"},
      {"i":127,"ao":-0.42,"aoc":"r","ac":-0.023,"acc":"g"},
      {"i":128,"ao":-0.46,"aoc":"r","ac":-0.034,"acc":"r"},
      {"i":129,"ao":-0.5,"aoc":"r","ac":-0.077,"acc":"r"},
      {"i":130,"ao":-0.58,"aoc":"r","ac":-0.111,"acc":"r"},
      {"i":131,"ao":-0.655,"aoc":"r","ac":-0.12,"acc":"r"},
      {"i":132,"ao":-0.674,"aoc":"r","ac":-0.103,"acc":"g"},
      {"i":133,"ao":-0.694,"aoc":"r","ac":-0.068,"acc":"g"},
      {"i":134,"ao":-0.753,"aoc":"r","ac":-0.085,"acc":"r"},
      {"i":135,"ao":-0.81,"aoc":"r","ac":-0.094,"acc":"r"},
      {"i":136,"ao":-0.805,"aoc":"g","ac":-0.06,"acc":"g"},
      {"i":137,"ao":-0.79,"aoc":"g","ac":0.003,"acc":"g"},
      {"i":138,"ao":-0.77,"aoc":"g","ac":0.012,"acc":"g"},
      {"i":139,"ao":-0.807,"aoc":"r","ac":0.001,"acc":"r"}
    ],
    "gt": [
      {"i":0,"gu":0.099,"guc":"r","gl":-0.099,"glc":"g"},
      {"i":1,"gu":0.099,"guc":"g","gl":-0.232,"glc":"g"},
      {"i":2,"gu":0.124,"guc":"g","gl":-0.32,"glc":"g"},
      {"i":3,"gu":0.222,"guc":"g","gl":-0.32,"glc":"g"},
      {"i":4,"gu":0.296,"guc":"g","gl":-0.262,"glc":"r"},
      {"i":5,"gu":0.341,"guc":"g","gl":-0.203,"glc":"r"},
      {"i":6,"gu":0.311,"guc":"r","gl":-0.203,"glc":"g"},
      {"i":7,"gu":0.282,"guc":"r","gl":-0.188,"glc":"r"},
      {"i":8,"gu":0.267,"guc":"r","gl":-0.143,"glc":"r"},
      {"i":9,"gu":0.267,"guc":"r","gl":-0.074,"glc":"r"},
      {"i":10,"gu":0.237,"guc":"r","gl":-0.025,"glc":"r"},
      {"i":11,"gu":0.178,"guc":"r","gl":-0.128,"glc":"g"},
      {"i":12,"gu":0.104,"guc":"r","gl":-0.114,"glc":"r"},
      {"i":13,"gu":0.015,"guc":"r","gl":-0.015,"glc":"r"},
      {"i":14,"gu":0.005,"guc":"g","gl":-0.069,"glc":"g"},
      {"i":15,"gu":0.04,"guc":"g","gl":-0.04,"glc":"r"},
      {"i":16,"gu":0.104,"guc":"g","gl":-0.069,"glc":"g"},
      {"i":17,"gu":0.119,"guc":"g","gl":-0.277,"glc":"g"},
      {"i":18,"gu":0.237,"guc":"g","gl":-0.484,"glc":"g"},
      {"i":19,"gu":0.4,"guc":"g","gl":-0.529,"glc":"g"},
      {"i":20,"gu":0.504,"guc":"g","gl":-0.44,"glc":"r"},
      {"i":21,"gu":0.489,"guc":"r","gl":-0.38,"glc":"r"},
      {"i":22,"gu":0.46,"guc":"r","gl":-0.366,"glc":"r"},
      {"i":23,"gu":0.4,"guc":"r","gl":-0.306,"glc":"r"},
      {"i":24,"gu":0.395,"guc":"r","gl":-0.247,"glc":"r"},
      {"i":25,"gu":0.311,"guc":"r","gl":-0.217,"glc":"r"},
      {"i":26,"gu":0.296,"guc":"r","gl":-0.128,"glc":"r"},
      {"i":27,"gu":0.267,"guc":"r","gl":-0.084,"glc":"r"},
      {"i":28,"gu":0.208,"guc":"r","gl":-0.025,"glc":"r"},
      {"i":29,"gu":0.178,"guc":"r","gl":-0.01,"glc":"g"},
      {"i":30,"gu":0.148,"guc":"r","gl":-0.025,"glc":"g"},
      {"i":31,"gu":0.148,"guc":"r","gl":-0.01,"glc":"r"},
      {"i":32,"gu":0.14,"guc":"r","gl":-0.025,"glc":"g"},
      {"i":33,"gu":0.119,"guc":"r","gl":-0.054,"glc":"g"},
      {"i":34,"gu":0.074,"guc":"r","gl":-0.084,"glc":"g"},
      {"i":35,"gu":0.074,"guc":"r","gl":-0.084,"glc":"g"},
      {"i":36,"gu":0.05,"guc":"r","gl":-0.084,"glc":"r"},
      {"i":37,"gu":0.03,"guc":"r","gl":-0.01,"glc":"r"},
      {"i":38,"gu":0.015,"guc":"g","gl":-0.128,"glc":"g"},
      {"i":39,"gu":0.059,"guc":"g","gl":-0.158,"glc":"g"},
      {"i":40,"gu":0.148,"guc":"g","gl":-0.143,"glc":"r"},
      {"i":41,"gu":0.178,"guc":"g","gl":-0.069,"glc":"r"},
      {"i":42,"gu":0.193,"guc":"g","gl":-0.005,"glc":"r"},
      {"i":43,"gu":0.148,"guc":"r","gl":-0.01,"glc":"g"},
      {"i":44,"gu":0.104,"guc":"r","gl":-0.025,"glc":"g"},
      {"i":45,"gu":0.059,"guc":"r","gl":-0.04,"glc":"g"},
      {"i":46,"gu":0.059,"guc":"r","gl":-0.069,"glc":"g"},
      {"i":47,"gu":0.074,"guc":"g","gl":-0.084,"glc":"g"},
      {"i":48,"gu":0.104,"guc":"g","gl":-0.084,"glc":"g"},
      {"i":49,"gu":0.119,"guc":"g","gl":-0.069,"glc":"r"},
      {"i":50,"gu":0.119,"guc":"g","gl":-0.04,"glc":"r"},
      {"i":51,"gu":0.119,"guc":"r","gl":-0.025,"glc":"r"},
      {"i":52,"gu":0.089,"guc":"r","gl":-0.128,"glc":"g"},
      {"i":53,"gu":0.074,"guc":"r","gl":-0.232,"glc":"g"},
      {"i":54,"gu":0.119,"guc":"g","gl":-0.217,"glc":"r"},
      {"i":55,"gu":0.193,"guc":"g","gl":-0.173,"glc":"r"},
      {"i":56,"gu":0.237,"guc":"g","gl":-0.114,"glc":"r"},
      {"i":57,"gu":0.222,"guc":"r","gl":-0.099,"glc":"r"},
      {"i":58,"gu":0.178,"guc":"r","gl":-0.054,"glc":"r"},
      {"i":59,"gu":0.163,"guc":"r","gl":-0.025,"glc":"r"},
      {"i":60,"gu":0.119,"guc":"r","gl":-0.084,"glc":"g"},
      {"i":61,"gu":0.104,"guc":"r","gl":-0.188,"glc":"g"},
      {"i":62,"gu":0.119,"guc":"g","gl":-0.217,"glc":"g"},
      {"i":63,"gu":0.193,"guc":"g","gl":-0.173,"glc":"r"},
      {"i":64,"gu":0.222,"guc":"g","gl":-0.173,"glc":"r"},
      {"i":65,"gu":0.237,"guc":"g","gl":-0.158,"glc":"r"},
      {"i":66,"gu":0.208,"guc":"r","gl":-0.173,"glc":"g"},
      {"i":67,"gu":0.208,"guc":"g","gl":-0.203,"glc":"g"},
      {"i":68,"gu":0.222,"guc":"g","gl":-0.217,"glc":"g"},
      {"i":69,"gu":0.252,"guc":"g","gl":-0.232,"glc":"g"},
      {"i":70,"gu":0.267,"guc":"g","gl":-0.188,"glc":"r"},
      {"i":71,"gu":0.282,"guc":"g","gl":-0.188,"glc":"r"},
      {"i":72,"gu":0.267,"guc":"r","gl":-0.188,"glc":"r"},
      {"i":73,"gu":0.252,"guc":"r","gl":-0.247,"glc":"g"},
      {"i":74,"gu":0.252,"guc":"g","gl":-0.247,"glc":"g"},
      {"i":75,"gu":0.296,"guc":"g","gl":-0.158,"glc":"r"},
      {"i":76,"gu":0.311,"guc":"g","gl":-0.084,"glc":"r"},
      {"i":77,"gu":0.267,"guc":"r","gl":-0.069,"glc":"r"},
      {"i":78,"gu":0.208,"guc":"r","gl":-0.04,"glc":"r"},
      {"i":79,"gu":0.178,"guc":"r","gl":-0.084,"glc":"g"},
      {"i":80,"gu":0.148,"guc":"r","gl":-0.173,"glc":"g"},
      {"i":81,"gu":0.059,"guc":"r","gl":-0.128,"glc":"r"},
      {"i":82,"gu":0.005,"guc":"r","gl":-0.114,"glc":"r"},
      {"i":83,"gu":0.015,"guc":"g","gl":-0.099,"glc":"r"},
      {"i":84,"gu":0.015,"guc":"r","gl":-0.143,"glc":"g"},
      {"i":85,"gu":0.003,"guc":"r","gl":-0.158,"glc":"g"},
      {"i":86,"gu":0.044,"guc":"g","gl":-0.143,"glc":"r"},
      {"i":87,"gu":0.059,"guc":"g","gl":-0.173,"glc":"g"},
      {"i":88,"gu":0.089,"guc":"g","gl":-0.188,"glc":"g"},
      {"i":89,"gu":0.104,"guc":"g","gl":-0.188,"glc":"g"},
      {"i":90,"gu":0.119,"guc":"g","gl":-0.173,"glc":"r"},
      {"i":91,"gu":0.148,"guc":"g","gl":-0.173,"glc":"r"},
      {"i":92,"gu":0.148,"guc":"g","gl":-0.099,"glc":"r"},
      {"i":93,"gu":0.133,"guc":"r","gl":-0.04,"glc":"r"},
      {"i":94,"gu":0.104,"guc":"r","gl":-0.025,"glc":"r"},
      {"i":95,"gu":0.074,"guc":"r","gl":-0.114,"glc":"g"},
      {"i":96,"gu":0.015,"guc":"r","gl":-0.158,"glc":"g"},
      {"i":97,"gu":0.03,"guc":"g","gl":-0.114,"glc":"r"},
      {"i":98,"gu":0.074,"guc":"g","gl":-0.04,"glc":"r"},
      {"i":99,"gu":0.074,"guc":"g","gl":-0.084,"glc":"g"},
      {"i":100,"gu":0.044,"guc":"r","gl":-0.143,"glc":"g"},
      {"i":101,"gu":0.044,"guc":"g","gl":-0.099,"glc":"r"},
      {"i":102,"gu":0.074,"guc":"g","gl":-0.084,"glc":"r"},
      {"i":103,"gu":0.074,"guc":"g","gl":-0.054,"glc":"r"},
      {"i":104,"gu":0.074,"guc":"g","gl":-0.025,"glc":"r"},
      {"i":105,"gu":0.044,"guc":"r","gl":-0.025,"glc":"r"},
      {"i":106,"gu":0.044,"guc":"r","gl":-0.069,"glc":"g"},
      {"i":107,"gu":0.015,"guc":"r","gl":-0.203,"glc":"g"},
      {"i":108,"gu":0.015,"guc":"g","gl":-0.173,"glc":"r"},
      {"i":109,"gu":0.104,"guc":"g","gl":-0.084,"glc":"r"},
      {"i":110,"gu":0.119,"guc":"g","gl":-0.04,"glc":"r"},
      {"i":111,"gu":0.104,"guc":"r","gl":-0.04,"glc":"r"},
      {"i":112,"gu":0.044,"guc":"r","gl":-0.069,"glc":"g"},
      {"i":113,"gu":0.03,"guc":"r","gl":-0.114,"glc":"g"},
      {"i":114,"gu":0.044,"guc":"g","gl":-0.143,"glc":"g"},
      {"i":115,"gu":0.089,"guc":"g","gl":-0.158,"glc":"g"},
      {"i":116,"gu":0.119,"guc":"g","gl":-0.188,"glc":"g"},
      {"i":117,"gu":0.148,"guc":"g","gl":-0.158,"glc":"r"},
      {"i":118,"gu":0.163,"guc":"g","gl":-0.158,"glc":"r"},
      {"i":119,"gu":0.163,"guc":"r","gl":-0.217,"glc":"g"},
      {"i":120,"gu":0.178,"guc":"g","gl":-0.262,"glc":"g"},
      {"i":121,"gu":0.193,"guc":"g","gl":-0.232,"glc":"r"},
      {"i":122,"gu":0.252,"guc":"g","gl":-0.143,"glc":"r"},
      {"i":123,"gu":0.252,"guc":"g","gl":-0.114,"glc":"r"},
      {"i":124,"gu":0.208,"guc":"r","gl":-0.262,"glc":"g"},
      {"i":125,"gu":0.044,"guc":"r","gl":-0.262,"glc":"g"},
      {"i":126,"gu":0.074,"guc":"g","gl":-0.277,"glc":"g"},
      {"i":127,"gu":0.163,"guc":"g","gl":-0.217,"glc":"r"},
      {"i":128,"gu":0.178,"guc":"g","gl":-0.158,"glc":"r"},
      {"i":129,"gu":0.148,"guc":"r","gl":-0.203,"glc":"g"},
      {"i":130,"gu":0.133,"guc":"r","gl":-0.277,"glc":"g"},
      {"i":131,"gu":0.148,"guc":"g","gl":-0.291,"glc":"g"},
      {"i":132,"gu":0.193,"guc":"g","gl":-0.262,"glc":"r"},
      {"i":133,"gu":0.252,"guc":"g","gl":-0.232,"glc":"r"},
      {"i":134,"gu":0.252,"guc":"g","gl":-0.277,"glc":"g"},
      {"i":135,"gu":0.237,"guc":"r","gl":-0.306,"glc":"g"},
      {"i":136,"gu":0.267,"guc":"g","gl":-0.291,"glc":"r"},
      {"i":137,"gu":0.296,"guc":"g","gl":-0.291,"glc":"r"},
      {"i":138,"gu":0.311,"guc":"g","gl":-0.306,"glc":"g"},
      {"i":139,"gu":0.326,"guc":"g","gl":-0.277,"glc":"r"},
      {"i":140,"gu":0.326,"guc":"g","gl":-0.232,"glc":"r"},
      {"i":141,"gu":0.311,"guc":"r","gl":-0.232,"glc":"r"},
      {"i":142,"gu":0.326,"guc":"g","gl":-0.291,"glc":"g"},
      {"i":143,"gu":0.311,"guc":"r","gl":0,"glc":"g"},
      {"i":144,"gu":0.346,"guc":"g","gl":0,"glc":"g"}
    ]
  },
  "vconcat": [
    {
      "width": 1236,
      "height": 484,
      "layer": [
        {
          "data": {"name": "cd"},
          "mark": {"type": "rule", "color": "#000000", "strokeWidth": 1},
          "encoding": {
            "x": {"field": "i", "type": "quantitative", "scale": {"domain": [-0.125, 154.375], "nice": false, "zero": false},
                  "axis": {"values": [0,4,8,12,16,20,24,28,32,36,40,44,48,52,56,60,64,68,72,76,80,84,88,92,96,100,104,108,112,116,120,124,128,132,136,140,144,148,152], "labels": false, "ticks": false, "grid": true, "minExtent": 0, "maxExtent": 0, "title": null}},
            "y": {"field": "l", "type": "quantitative", "scale": {"domain": [74.294, 78.105], "nice": false, "zero": false},
                  "axis": {"orient": "right", "values": [74.55,74.8,75.05,75.3,75.55,75.8,76.05,76.3,76.55,76.8,77.05,77.3,77.55,77.8,78.05], "format": ".2f", "grid": true, "tickSize": 4, "labelPadding": 1, "title": null}},
            "y2": {"field": "h"}
          }
        },
        {
          "data": {"name": "cd"},
          "mark": {"type": "bar", "width": 3, "stroke": "#000000", "strokeWidth": 1, "clip": true},
          "encoding": {
            "x": {"field": "i", "type": "quantitative", "title": null},
            "y": {"field": "o", "type": "quantitative", "title": null},
            "y2": {"field": "c"},
            "fill": {"condition": {"test": "datum.c >= datum.o", "value": "#ffffff"}, "value": "#000000"}
          }
        },
        {
          "data": {"values": [{"p": 74.47}]},
          "mark": {"type": "rule", "color": "#b40000", "strokeWidth": 1},
          "encoding": {
            "x": {"datum": -0.125},
            "x2": {"datum": 154.375},
            "y": {"field": "p", "type": "quantitative", "title": null}
          }
        },
        {
          "data": {"name": "al"},
          "mark": {"type": "line", "color": "#0a4bd6", "strokeWidth": 2},
          "encoding": {"x": {"field": "i", "type": "quantitative", "title": null}, "y": {"field": "j", "type": "quantitative", "title": null}}
        },
        {
          "data": {"name": "al"},
          "mark": {"type": "line", "color": "#ff0000", "strokeWidth": 2},
          "encoding": {"x": {"field": "i", "type": "quantitative", "title": null}, "y": {"field": "t", "type": "quantitative", "title": null}}
        },
        {
          "data": {"name": "al"},
          "mark": {"type": "line", "color": "#33c433", "strokeWidth": 2},
          "encoding": {"x": {"field": "i", "type": "quantitative", "title": null}, "y": {"field": "lp", "type": "quantitative", "title": null}}
        },
        {
          "data": {"name": "fr"},
          "transform": [{"filter": "datum.d === 'u'"}],
          "mark": {"type": "point", "shape": "M0,-1L-0.85,0.9L0,0.38Z", "filled": true, "fill": "#111111", "strokeWidth": 0, "size": 110, "opacity": 1},
          "encoding": {"x": {"field": "i", "type": "quantitative", "title": null}, "y": {"field": "p", "type": "quantitative", "title": null}}
        },
        {
          "data": {"name": "fr"},
          "transform": [{"filter": "datum.d === 'u'"}],
          "mark": {"type": "point", "shape": "M0,-1L0.85,0.9L0,0.38Z", "filled": true, "fill": "#d4d8e4", "stroke": "#6a6a6a", "strokeWidth": 0.7, "size": 110, "opacity": 1},
          "encoding": {"x": {"field": "i", "type": "quantitative", "title": null}, "y": {"field": "p", "type": "quantitative", "title": null}}
        },
        {
          "data": {"name": "fr"},
          "transform": [{"filter": "datum.d === 'd'"}],
          "mark": {"type": "point", "shape": "M0,1L-0.85,-0.9L0,-0.38Z", "filled": true, "fill": "#d4d8e4", "stroke": "#6a6a6a", "strokeWidth": 0.7, "size": 110, "opacity": 1},
          "encoding": {"x": {"field": "i", "type": "quantitative", "title": null}, "y": {"field": "p", "type": "quantitative", "title": null}}
        },
        {
          "data": {"name": "fr"},
          "transform": [{"filter": "datum.d === 'd'"}],
          "mark": {"type": "point", "shape": "M0,1L0.85,-0.9L0,-0.38Z", "filled": true, "fill": "#111111", "strokeWidth": 0, "size": 110, "opacity": 1},
          "encoding": {"x": {"field": "i", "type": "quantitative", "title": null}, "y": {"field": "p", "type": "quantitative", "title": null}}
        },
        {
          "data": {"values": [{"i": 141, "p": 74.373}]},
          "mark": {"type": "point", "shape": "M-0.38,-1L0.38,-1L0.38,0L0.85,0L0,1L-0.85,0L-0.38,0Z", "filled": true, "fill": "#ffe6d6", "stroke": "#ff2a2a", "strokeWidth": 1.3, "size": 400, "opacity": 1, "clip": false},
          "encoding": {"x": {"field": "i", "type": "quantitative", "title": null}, "y": {"field": "p", "type": "quantitative", "title": null}}
        },
        {
          "data": {"values": [{"t": "74.47"}]},
          "mark": {"type": "rect", "color": "#c80000", "clip": false},
          "encoding": {
            "x": {"datum": 154.75},
            "x2": {"datum": 158.3},
            "y": {"datum": 74.517},
            "y2": {"datum": 74.423}
          }
        },
        {
          "data": {"values": [{"p": 74.47, "t": "74.47"}]},
          "mark": {"type": "text", "color": "#ffffff", "align": "left", "baseline": "middle", "dx": 2, "fontSize": 8.5, "clip": false},
          "encoding": {
            "x": {"datum": 154.75},
            "y": {"field": "p", "type": "quantitative", "title": null},
            "text": {"field": "t"}
          }
        }
      ]
    },
    {
      "width": 1236,
      "height": 101,
      "layer": [
        {
          "data": {"name": "os"},
          "mark": {"type": "bar", "width": 4},
          "encoding": {
            "x": {"field": "i", "type": "quantitative", "scale": {"domain": [-0.125, 154.375], "nice": false, "zero": false},
                  "axis": {"values": [0,4,8,12,16,20,24,28,32,36,40,44,48,52,56,60,64,68,72,76,80,84,88,92,96,100,104,108,112,116,120,124,128,132,136,140,144,148,152], "labels": false, "ticks": false, "grid": true, "minExtent": 0, "maxExtent": 0, "title": null}},
            "y": {"field": "ao", "type": "quantitative", "scale": {"domain": [-1.306, 0.697], "nice": false, "zero": false},
                  "axis": {"orient": "right", "values": [0.697, 0, -1.306], "labelExpr": "replace(format(datum.value, '.3f'), '\u2212', '-')", "labelFlush": true, "grid": true, "gridOpacity": {"condition": {"test": "datum.value === 0", "value": 1}, "value": 0}, "tickSize": 4, "labelPadding": 1, "title": null}},
            "y2": {"datum": 0},
            "color": {"field": "aoc", "type": "nominal", "scale": {"domain": ["g", "r"], "range": ["#008000", "#ff0000"]}, "legend": null}
          }
        },
        {
          "data": {"values": [{"t": "AO -0.807"}]},
          "mark": {"type": "text", "align": "left", "baseline": "top", "dx": 5, "dy": 3, "fontSize": 8.5, "color": "#000000"},
          "encoding": {"x": {"datum": -0.125}, "y": {"datum": 0.697}, "text": {"field": "t"}}
        }
      ]
    },
    {
      "width": 1236,
      "height": 100,
      "layer": [
        {
          "data": {"name": "os"},
          "mark": {"type": "bar", "width": 4},
          "encoding": {
            "x": {"field": "i", "type": "quantitative", "scale": {"domain": [-0.125, 154.375], "nice": false, "zero": false},
                  "axis": {"values": [0,4,8,12,16,20,24,28,32,36,40,44,48,52,56,60,64,68,72,76,80,84,88,92,96,100,104,108,112,116,120,124,128,132,136,140,144,148,152], "labels": false, "ticks": false, "grid": true, "minExtent": 0, "maxExtent": 0, "title": null}},
            "y": {"field": "ac", "type": "quantitative", "scale": {"domain": [-0.5111, 0.343], "nice": false, "zero": false},
                  "axis": {"orient": "right", "values": [0.343, 0, -0.5111], "labelExpr": "replace(format(datum.value, '.4f'), '\u2212', '-')", "labelFlush": true, "grid": true, "gridOpacity": {"condition": {"test": "datum.value === 0", "value": 1}, "value": 0}, "tickSize": 4, "labelPadding": 1, "title": null}},
            "y2": {"datum": 0},
            "color": {"field": "acc", "type": "nominal", "scale": {"domain": ["g", "r"], "range": ["#008000", "#ff0000"]}, "legend": null}
          }
        },
        {
          "data": {"values": [{"t": "AC 0.0010"}]},
          "mark": {"type": "text", "align": "left", "baseline": "top", "dx": 5, "dy": 3, "fontSize": 8.5, "color": "#000000"},
          "encoding": {"x": {"datum": -0.125}, "y": {"datum": 0.343}, "text": {"field": "t"}}
        }
      ]
    },
    {
      "width": 1236,
      "height": 84,
      "layer": [
        {
          "data": {"name": "gt"},
          "mark": {"type": "bar", "width": 4},
          "encoding": {
            "x": {"field": "i", "type": "quantitative", "scale": {"domain": [-0.125, 154.375], "nice": false, "zero": false},
                  "axis": {"values": [0,4,8,12,16,20,24,28,32,36,40,44,48,52,56,60,64,68,72,76,80,84,88,92,96,100,104,108,112,116,120,124,128,132,136,140,144,148,152],
                           "grid": true, "title": null, "tickSize": 4, "labelPadding": 2, "labelAlign": "left", "minExtent": 0,
                           "tickOpacity": {"condition": {"test": "datum.value % 8 === 0 && datum.value <= 136", "value": 1}, "value": 0},
                           "labelExpr": "datum.value % 8 === 0 && datum.value <= 136 ? ['27 Jan 2025','27 Jan 12:00','27 Jan 20:00','28 Jan 07:00','28 Jan 15:00','28 Jan 23:00','29 Jan 10:00','29 Jan 18:00','30 Jan 05:00','30 Jan 13:00','30 Jan 21:00','31 Jan 08:00','31 Jan 16:00','3 Feb 01:00','3 Feb 09:00','3 Feb 17:00','4 Feb 04:00','4 Feb 12:00'][datum.value / 8] : ''"}},
            "y": {"field": "gu", "type": "quantitative", "scale": {"domain": [-0.63, 0.615], "nice": false, "zero": false},
                  "axis": {"orient": "right", "values": [0.615, 0, -0.63], "labelExpr": "replace(format(datum.value, '.3f'), '\u2212', '-')", "labelFlush": true, "grid": true, "gridOpacity": {"condition": {"test": "datum.value === 0", "value": 1}, "value": 0}, "tickSize": 4, "labelPadding": 1, "title": null}},
            "y2": {"datum": 0},
            "color": {"field": "guc", "type": "nominal", "scale": {"domain": ["g", "r"], "range": ["#008000", "#ff0000"]}, "legend": null}
          }
        },
        {
          "data": {"name": "gt"},
          "mark": {"type": "bar", "width": 4},
          "encoding": {
            "x": {"field": "i", "type": "quantitative", "title": null},
            "y": {"field": "gl", "type": "quantitative", "title": null},
            "y2": {"datum": 0},
            "color": {"field": "glc", "type": "nominal", "scale": {"domain": ["g", "r"], "range": ["#008000", "#ff0000"]}, "legend": null}
          }
        },
        {
          "data": {"values": [{"t": "Gator(13,8,5) 0.346 0.000"}]},
          "mark": {"type": "text", "align": "left", "baseline": "top", "dx": 5, "dy": 3, "fontSize": 8.5, "color": "#000000"},
          "encoding": {"x": {"datum": -0.125}, "y": {"datum": 0.615}, "text": {"field": "t"}}
        }
      ]
    }
  ]
}
